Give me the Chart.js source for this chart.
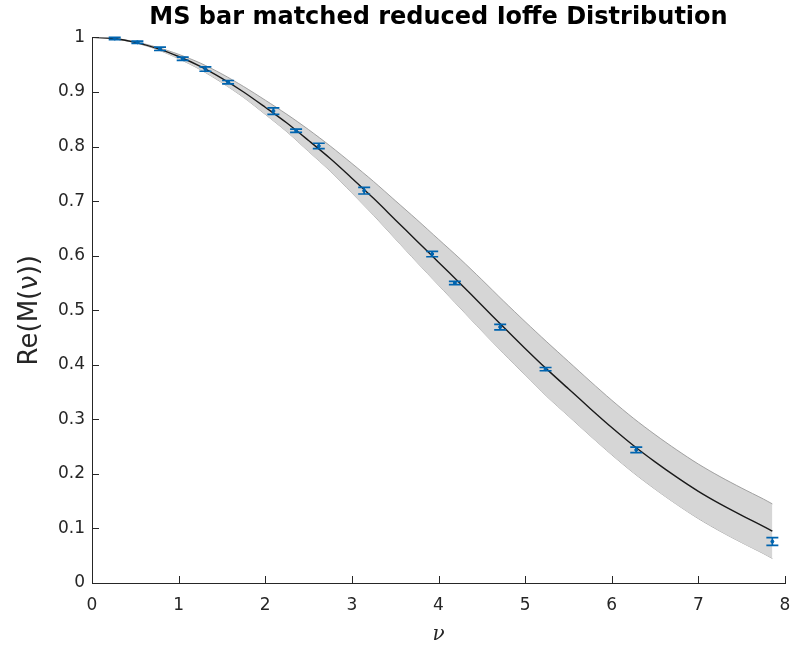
<!DOCTYPE html>
<html>
<head>
<meta charset="utf-8">
<script src="https://cdn.jsdelivr.net/npm/chart.js@4.4.0/dist/chart.umd.min.js"></script>
<style>
html,body{margin:0;padding:0;background:#fff;}
#wrap{width:798px;height:649px;}
</style>
</head>
<body>
<div id="wrap"><canvas id="c" width="798" height="649"></canvas></div>
<script>
// ---- data ----
const nuPoints = [0.262, 0.524, 0.785, 1.047, 1.309, 1.571, 2.094, 2.356, 2.618, 3.142, 3.927, 4.189, 4.712, 5.236, 6.283, 7.854];
const rePoints = [0.998, 0.991, 0.979, 0.961, 0.942, 0.918, 0.865, 0.829, 0.801, 0.719, 0.603, 0.550, 0.469, 0.392, 0.244, 0.076];
const reErrors = [0.002, 0.002, 0.003, 0.003, 0.004, 0.003, 0.006, 0.003, 0.005, 0.006, 0.005, 0.003, 0.005, 0.003, 0.005, 0.007];

const nuCurve = [0, 0.25, 0.5, 0.75, 1, 1.25, 1.5, 1.75, 2, 2.25, 2.5, 2.75, 3, 3.25, 3.5, 3.75, 4, 4.25, 4.5, 4.75, 5, 5.25, 5.5, 5.75, 6, 6.25, 6.5, 6.75, 7, 7.25, 7.5, 7.75, 7.854];
const reCurve = [1.000, 0.998, 0.991, 0.980, 0.965, 0.947, 0.925, 0.900, 0.872, 0.843, 0.811, 0.778, 0.742, 0.705, 0.666, 0.627, 0.588, 0.549, 0.509, 0.469, 0.430, 0.392, 0.356, 0.320, 0.285, 0.252, 0.222, 0.194, 0.168, 0.145, 0.124, 0.104, 0.095];
const reUpper = [1.000, 0.9985, 0.992, 0.982, 0.969, 0.953, 0.933, 0.910, 0.885, 0.859, 0.831, 0.801, 0.769, 0.736, 0.701, 0.666, 0.630, 0.594, 0.556, 0.517, 0.479, 0.442, 0.406, 0.370, 0.335, 0.302, 0.272, 0.244, 0.218, 0.195, 0.174, 0.154, 0.145];
const reLower = [1.000, 0.9975, 0.990, 0.978, 0.961, 0.941, 0.917, 0.890, 0.859, 0.827, 0.791, 0.755, 0.715, 0.674, 0.631, 0.588, 0.546, 0.504, 0.462, 0.421, 0.381, 0.342, 0.306, 0.270, 0.235, 0.202, 0.172, 0.144, 0.118, 0.095, 0.074, 0.054, 0.045];

const xTickLabels = ['0','1','2','3','4','5','6','7','8'];
const yTickLabels = ['0','0.1','0.2','0.3','0.4','0.5','0.6','0.7','0.8','0.9','1'];

const titleText = 'MS bar matched reduced Ioffe Distribution';
const xTitle = 'ν';
const yTitle = 'Re(M(ν))';

const toXY = (xs, ys) => xs.map((x, i) => ({x: x, y: ys[i]}));

const TXT = '#262626';
const BLUE = 'rgb(0,100,175)';

// error bars + inward ticks plugin
const extras = {
  id: 'extras',
  afterDatasetsDraw(chart) {
    const ctx = chart.ctx;
    const xs = chart.scales.x, ys = chart.scales.y;
    ctx.save();
    ctx.strokeStyle = BLUE;
    ctx.lineWidth = 1.7;
    nuPoints.forEach((nu, i) => {
      const px = xs.getPixelForValue(nu);
      const y1 = ys.getPixelForValue(rePoints[i] - reErrors[i]);
      const y2 = ys.getPixelForValue(rePoints[i] + reErrors[i]);
      const cw = 6;
      ctx.beginPath();
      ctx.moveTo(px, y1); ctx.lineTo(px, y2);
      ctx.moveTo(px - cw, y1); ctx.lineTo(px + cw, y1);
      ctx.moveTo(px - cw, y2); ctx.lineTo(px + cw, y2);
      ctx.stroke();
    });
    ctx.restore();
  },
  afterDraw(chart) {
    const ctx = chart.ctx;
    const xs = chart.scales.x, ys = chart.scales.y;
    const a = chart.chartArea;
    ctx.save();
    ctx.strokeStyle = TXT;
    ctx.lineWidth = 1;
    ctx.beginPath();
    xs.ticks.forEach(t => {
      const px = Math.round(xs.getPixelForValue(t.value)) + 0.5;
      ctx.moveTo(px, a.bottom); ctx.lineTo(px, a.bottom - 7);
    });
    ys.ticks.forEach(t => {
      const py = Math.round(ys.getPixelForValue(t.value)) + 0.5;
      ctx.moveTo(a.left, py); ctx.lineTo(a.left + 7, py);
    });
    ctx.stroke();
    ctx.restore();
  }
};

new Chart(document.getElementById('c'), {
  type: 'line',
  data: {
    datasets: [
      {
        label: 'lower',
        data: toXY(nuCurve, reLower),
        borderColor: '#8f8f8f',
        borderWidth: 0.8,
        pointRadius: 0,
        fill: false,
        tension: 0.3,
        order: 3
      },
      {
        label: 'upper',
        data: toXY(nuCurve, reUpper),
        borderColor: '#8f8f8f',
        borderWidth: 0.8,
        pointRadius: 0,
        backgroundColor: 'rgb(214,214,214)',
        fill: '-1',
        tension: 0.3,
        order: 2
      },
      {
        label: 'fit',
        data: toXY(nuCurve, reCurve),
        borderColor: '#1a1a1a',
        borderWidth: 1.4,
        pointRadius: 0,
        fill: false,
        tension: 0.3,
        order: 1
      },
      {
        label: 'data',
        data: toXY(nuPoints, rePoints),
        showLine: false,
        pointRadius: 1.5,
        pointBackgroundColor: BLUE,
        pointBorderColor: BLUE,
        borderColor: BLUE,
        order: 0
      }
    ]
  },
  options: {
    responsive: false,
    animation: false,
    layout: { padding: { left: 0, right: 13, top: 0, bottom: 0 } },
    plugins: {
      legend: { display: false },
      tooltip: { enabled: false },
      title: {
        display: true,
        fullSize: false,
        text: titleText,
        color: '#000',
        font: { family: 'DejaVu Sans', size: 24, weight: 'bold', lineHeight: 1.1 },
        padding: { top: 5, bottom: 6 }
      }
    },
    scales: {
      x: {
        type: 'linear',
        min: 0, max: 8,
        border: { display: true, color: TXT, width: 1 },
        grid: { drawOnChartArea: false, drawTicks: false },
        ticks: {
          stepSize: 1,
          color: TXT,
          padding: 12,
          maxRotation: 0,
          font: { family: 'DejaVu Sans', size: 17 },
          callback: (v) => xTickLabels[Math.round(v)]
        },
        title: {
          display: true,
          text: xTitle,
          color: TXT,
          font: { family: 'DejaVu Serif', size: 20, style: 'italic' },
          padding: { top: 2, bottom: 2 }
        },
        afterFit: (s) => { s.height = 66; s.paddingLeft = 0; s.paddingRight = 0; }
      },
      y: {
        type: 'linear',
        min: 0, max: 1,
        border: { display: true, color: TXT, width: 1 },
        grid: { drawOnChartArea: false, drawTicks: false },
        ticks: {
          stepSize: 0.1,
          color: TXT,
          padding: 7,
          font: { family: 'DejaVu Sans', size: 17 },
          callback: (v) => yTickLabels[Math.round(v * 10)]
        },
        title: {
          display: true,
          text: yTitle,
          color: TXT,
          font: { family: 'DejaVu Sans', size: 26 },
          padding: { top: 15, bottom: 0 }
        },
        afterFit: (s) => { s.width = 92; }
      }
    }
  },
  plugins: [extras]
});
</script>
</body>
</html>
